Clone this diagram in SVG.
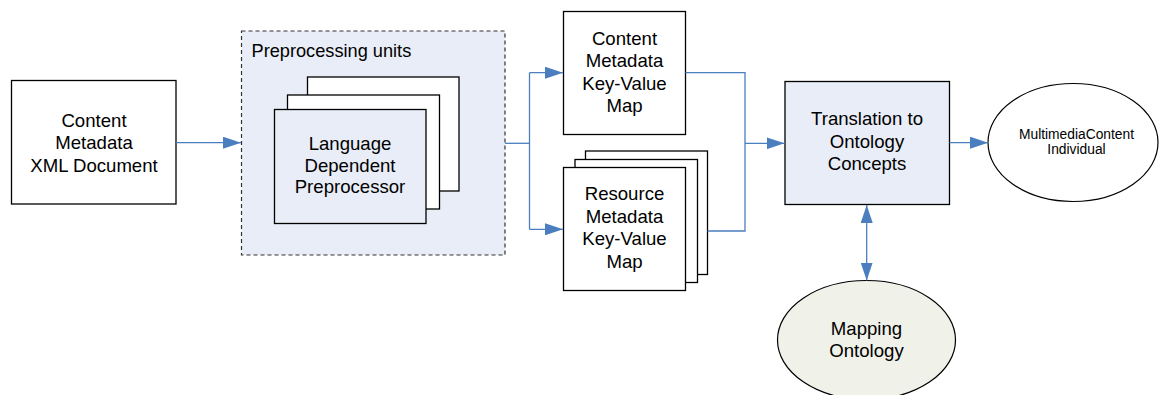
<svg xmlns="http://www.w3.org/2000/svg" width="1159" height="395" viewBox="0 0 1159 395">
<style>
.box{fill:#ffffff;stroke:#000000;stroke-width:1.3}
.blue{fill:#e8edf7;stroke:#000000;stroke-width:1.3}
.t{font-family:"Liberation Sans",Arial,sans-serif;font-size:18.6px;fill:#000000;text-anchor:middle}
.ts{font-family:"Liberation Sans",Arial,sans-serif;font-size:13.8px;fill:#000000;text-anchor:middle}
.c{fill:none;stroke:#4a7ebf;stroke-width:1.3}
</style>
<defs>
<marker id="ah" markerWidth="18" markerHeight="12" refX="18" refY="6" orient="auto" markerUnits="userSpaceOnUse">
<path d="M0,0 L18,6 L0,12 Z" fill="#4a7ebf"/>
</marker>
<marker id="ahs" markerWidth="18" markerHeight="12" refX="18" refY="6" orient="auto-start-reverse" markerUnits="userSpaceOnUse">
<path d="M0,0 L18,6 L0,12 Z" fill="#4a7ebf"/>
</marker>
</defs>

<g id="preprocessing-units">
<rect x="241.5" y="31" width="263.5" height="224" fill="#e8edf7" stroke="#333" stroke-width="1.2" stroke-dasharray="4,3"/>
<text x="251.5" y="56.5" font-family="Liberation Sans,Arial,sans-serif" font-size="18.2px" fill="#000">Preprocessing units</text>
</g>

<g id="xml-doc">
<rect class="box" x="11.5" y="80.5" width="164.5" height="123.5"/>
<text class="t" x="94" y="126.5">Content</text>
<text class="t" x="94" y="149">Metadata</text>
<text class="t" x="94" y="171.5">XML Document</text>
</g>

<g id="preprocessor">
<rect class="box" x="307.5" y="77" width="151.5" height="114"/>
<rect class="box" x="287.5" y="95" width="152" height="114"/>
<rect class="blue" x="274.5" y="109.5" width="151.5" height="114"/>
<text class="t" x="350" y="150">Language</text>
<text class="t" x="350" y="171.5">Dependent</text>
<text class="t" x="350" y="193">Preprocessor</text>
</g>

<g id="content-map">
<rect class="box" x="563.5" y="11.5" width="122" height="123"/>
<text class="t" x="624.5" y="45">Content</text>
<text class="t" x="624.5" y="67">Metadata</text>
<text class="t" x="624.5" y="89.5">Key-Value</text>
<text class="t" x="624.5" y="111.5">Map</text>
</g>

<g id="resource-map">
<rect class="box" x="585.5" y="151" width="122" height="123.5"/>
<rect class="box" x="575" y="159.5" width="122.5" height="123"/>
<rect class="box" x="563.5" y="167.5" width="122" height="123"/>
<text class="t" x="624.5" y="200">Resource</text>
<text class="t" x="624.5" y="222.5">Metadata</text>
<text class="t" x="624.5" y="245">Key-Value</text>
<text class="t" x="624.5" y="268">Map</text>
</g>

<g id="translation">
<rect class="blue" x="785" y="81.5" width="164.5" height="123"/>
<text class="t" x="867" y="125">Translation to</text>
<text class="t" x="867" y="147.5">Ontology</text>
<text class="t" x="867" y="169.5">Concepts</text>
</g>

<g id="individual">
<ellipse cx="1073" cy="142.5" rx="85" ry="59" fill="#ffffff" stroke="#000" stroke-width="1.2"/>
<text class="ts" x="1076.5" y="138.5">MultimediaContent</text>
<text class="ts" x="1076.5" y="154">Individual</text>
</g>

<g id="mapping-ontology">
<ellipse cx="866.5" cy="340" rx="89" ry="59.5" fill="#f0f1e9" stroke="#000" stroke-width="1.2"/>
<text class="t" x="866.5" y="335">Mapping</text>
<text class="t" x="866.5" y="357">Ontology</text>
</g>

<g id="connectors">
<line class="c" x1="176" y1="142.7" x2="241" y2="142.7" marker-end="url(#ah)"/>
<line class="c" x1="505" y1="143.3" x2="529.5" y2="143.3"/>
<line class="c" x1="529.5" y1="72.7" x2="529.5" y2="229.3"/>
<line class="c" x1="529.5" y1="72.7" x2="563" y2="72.7" marker-end="url(#ah)"/>
<line class="c" x1="529.5" y1="229.3" x2="563" y2="229.3" marker-end="url(#ah)"/>
<polyline class="c" points="685.5,72.7 745,72.7 745,231 707.5,231"/>
<line class="c" x1="745" y1="143.3" x2="784.5" y2="143.3" marker-end="url(#ah)"/>
<line class="c" x1="949.5" y1="142.7" x2="988" y2="142.7" marker-end="url(#ah)"/>
<line class="c" x1="866.7" y1="205" x2="866.7" y2="280.5" marker-start="url(#ahs)" marker-end="url(#ah)"/>
</g>
</svg>
